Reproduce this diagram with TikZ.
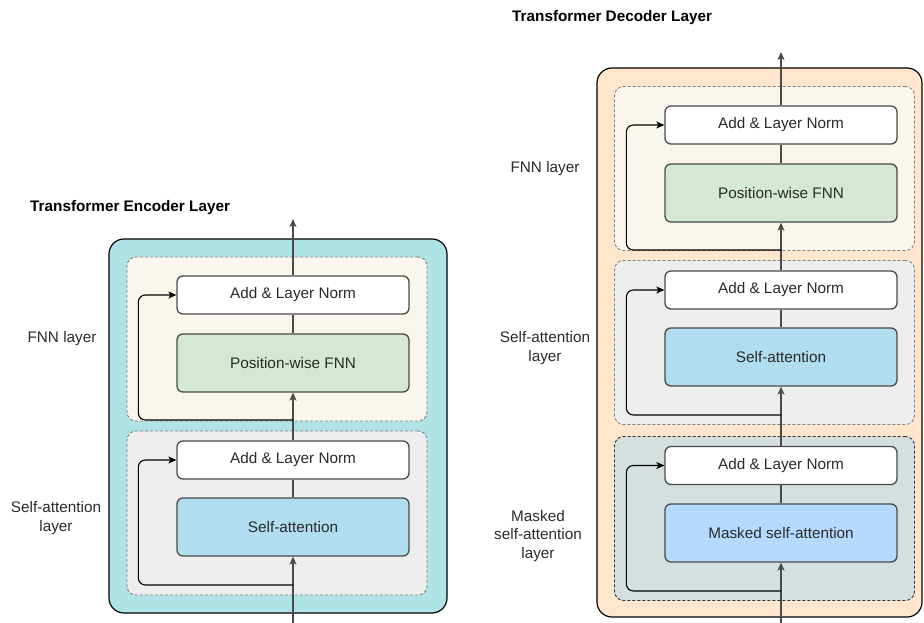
\documentclass[tikz,border=0pt]{standalone}
\usepackage{fontspec}
\setmainfont{Liberation Sans}
\usepackage{tikz}
\usetikzlibrary{calc}
\usetikzlibrary{arrows.meta}
\definecolor{EncBg}{HTML}{B0E3E6}
\definecolor{DecBg}{HTML}{FFE6CC}
\definecolor{FnnBg}{HTML}{F9F7ED}
\definecolor{AttBg}{HTML}{EEEEEE}
\definecolor{MaskBg}{HTML}{D5DFDF}
\definecolor{FnnFill}{HTML}{D5E8D4}
\definecolor{AttFill}{HTML}{B1DDF0}
\definecolor{MaskFill}{HTML}{B5DAFF}
\definecolor{BoxLine}{HTML}{4A4A4A}
\definecolor{TextGray}{HTML}{2A2A2A}
\newcommand{\blockw}{232}
\newcommand{\normh}{38}
\newcommand{\mainh}{58}
\newcommand{\layerw}{300}
\newcommand{\layerh}{164}
\newcommand{\resx}{38}
\newcommand{\labelfont}{\fontsize{15.3}{18.3}\selectfont}
\tikzset{
  outerbox/.style={draw=black, line width=1.2pt, rounded corners=15, inner sep=0},
  layerbox/.style={draw=gray, line width=0.9pt, dash pattern=on 3pt off 2pt,
    rounded corners=9, minimum width=\layerw, minimum height=\layerh, inner sep=0},
  block/.style={draw=BoxLine, line width=1.3pt, rounded corners=6,
    minimum width=\blockw, text=TextGray, font=\labelfont, inner sep=0},
  normbox/.style={block, fill=white, minimum height=\normh},
  mainbox/.style={block, minimum height=\mainh},
  flow/.style={draw=BoxLine, line width=1.2pt},
  flowarrow/.style={flow, -{Stealth[length=8pt,width=7pt,inset=2pt]}},
  resid/.style={draw=black, line width=1.1pt, rounded corners=7,
    -{Stealth[length=8pt,width=7pt,inset=2pt]}},
  sidelabel/.style={text=TextGray, font=\labelfont, align=center},
  titlelabel/.style={font=\labelfont\bfseries, anchor=west, inner sep=0}
}

\begin{document}
\begin{tikzpicture}[x=1pt,y=-1pt]
  \useasboundingbox (0,0) rectangle (924,623);

  % encoder part
  \node[titlelabel] (enctitle) at (30,208) {Transformer Encoder Layer};
  \node[outerbox, fill=EncBg, minimum width=338, minimum height=374] (enc) at (278,426) {};
  \node[layerbox, fill=FnnBg] (encfnnlayer) at (277,339) {};
  \node[layerbox, fill=AttBg] (encattlayer) at (277,513) {};
  \node[normbox] (encnormb) at (293,295) {Add \& Layer Norm};
  \node[mainbox, fill=FnnFill] (encfnn) at (293,363) {Position-wise FNN};
  \node[normbox] (encnorma) at (293,460) {Add \& Layer Norm};
  \node[mainbox, fill=AttFill] (encatt) at (293,527) {Self-attention};
  \node[sidelabel] (encfnnlabel) at (62,339) {FNN layer};
  \node[sidelabel] (encattlabel) at (56,518) {Self-attention\\layer};

  \coordinate (encin) at (293,623);
  \coordinate (encout) at (293,219);
  \coordinate (encresa) at (293,585);
  \coordinate (encresb) at (293,420);

  \draw[flowarrow] (encin) -- (encatt);
  \draw[flow] (encatt) -- (encnorma);
  \draw[flowarrow] (encnorma) -- (encfnn);
  \draw[flow] (encfnn) -- (encnormb);
  \draw[flowarrow] (encnormb) -- (encout);
  \draw[resid] (encresa) -| ([xshift=-\resx]encnorma.west) -- (encnorma.west);
  \draw[resid] (encresb) -| ([xshift=-\resx]encnormb.west) -- (encnormb.west);

  % decoder part
  \node[titlelabel] (dectitle) at (512,18) {Transformer Decoder Layer};
  \node[outerbox, fill=DecBg, minimum width=325, minimum height=549] (dec) at (759.5,342.5) {};
  \node[layerbox, fill=FnnBg] (decfnnlayer) at (764.5,168.5) {};
  \node[layerbox, fill=AttBg] (decattlayer) at (764.5,342.5) {};
  \node[layerbox, fill=MaskBg, draw=black!80] (decmasklayer) at (764.5,518.5) {};
  \node[normbox] (decnormc) at (781,125) {Add \& Layer Norm};
  \node[mainbox, fill=FnnFill] (decfnn) at (781,193) {Position-wise FNN};
  \node[normbox] (decnormb) at (781,290) {Add \& Layer Norm};
  \node[mainbox, fill=AttFill] (decatt) at (781,357) {Self-attention};
  \node[normbox] (decnorma) at (781,465.5) {Add \& Layer Norm};
  \node[mainbox, fill=MaskFill] (decmask) at (781,533) {Masked self-attention};
  \node[sidelabel] (decfnnlabel) at (545,169) {FNN layer};
  \node[sidelabel] (decattlabel) at (545,348) {Self-attention\\layer};
  \node[sidelabel] (decmasklabel) at (538,536) {Masked\\self-attention\\layer};

  \coordinate (decin) at (781,623);
  \coordinate (decout) at (781,52);
  \coordinate (decresa) at (781,591);
  \coordinate (decresb) at (781,415);
  \coordinate (decresc) at (781,250);

  \draw[flowarrow] (decin) -- (decmask);
  \draw[flow] (decmask) -- (decnorma);
  \draw[flowarrow] (decnorma) -- (decatt);
  \draw[flow] (decatt) -- (decnormb);
  \draw[flowarrow] (decnormb) -- (decfnn);
  \draw[flow] (decfnn) -- (decnormc);
  \draw[flowarrow] (decnormc) -- (decout);
  \draw[resid] (decresa) -| ([xshift=-\resx]decnorma.west) -- (decnorma.west);
  \draw[resid] (decresb) -| ([xshift=-\resx]decnormb.west) -- (decnormb.west);
  \draw[resid] (decresc) -| ([xshift=-\resx]decnormc.west) -- (decnormc.west);
\end{tikzpicture}
\end{document}
